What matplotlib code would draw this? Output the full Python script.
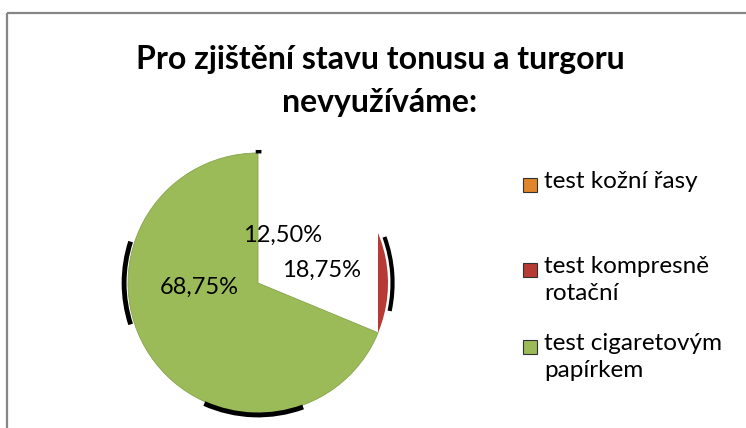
import matplotlib.pyplot as plt
from matplotlib.patches import Rectangle, Arc

# data
kategorie = ["test kožní řasy", "test kompresně\nrotační", "test cigaretovým\npapírkem"]
hodnoty = [12.5, 18.75, 68.75]
popisky = ["12,50%", "18,75%", "68,75%"]
barvy = ["#E0852B", "#B83A35", "#9BBB59"]
nadpis = "Pro zjištění stavu tonusu a turgoru\nnevyužíváme:"

plt.rcParams['font.family'] = ['Lato', 'DejaVu Sans']

W, H = 746, 428
fig = plt.figure(figsize=(W / 100, H / 100), dpi=100)

# pozadi v pixelovych souradnicich
bg = fig.add_axes([0, 0, 1, 1])
bg.set_xlim(0, W)
bg.set_ylim(H, 0)
bg.axis('off')
bg.plot([7, W], [13, 13], color="#868686", lw=1.6, solid_capstyle='butt')
bg.plot([7, 7], [13, H], color="#868686", lw=1.6, solid_capstyle='butt')
bg.text(380, 81, nadpis, ha='center', va='center', fontsize=23, fontweight='bold',
        linespacing=1.62, color="#000000")

# kolac
cx, cy, r = 258, 283, 130
ax = fig.add_axes([(cx - r) / W, (H - cy - r) / H, 2 * r / W, 2 * r / H])

wedges, _ = ax.pie(hodnoty, startangle=90, counterclock=False, radius=1,
                   colors=barvy, wedgeprops=dict(linewidth=0))
ax.set_xlim(-1, 1)
ax.set_ylim(-1, 1)
ax.axis('off')

# jen zelena vysec je videt cela, cervena jen jako okraj vpravo
wedges[0].set_visible(False)
clip = Rectangle((0.925, -1), 0.2, 2, transform=ax.transData)
wedges[1].set_clip_path(clip)
wedges[1].set_clip_on(True)
wedges[2].set_edgecolor("#86A44A")
wedges[2].set_linewidth(0.6)

# cerne stiny kolem
for (t1, t2, rr, lw) in [(162, 198, 1.03, 3.5), (-12, 20, 1.035, 3.0),
                         (246, 290, 1.015, 3.5), (88.5, 91, 1.01, 2.5)]:
    ax.add_patch(Arc((0, 0), 2 * rr, 2 * rr, theta1=t1, theta2=t2, color='black',
                     lw=lw, clip_on=False))

pozice = [(0.19, 0.37), (0.49, 0.10), (-0.45, -0.03)]
for (x, y), t in zip(pozice, popisky):
    ax.text(x, y, t, ha='center', va='center', fontsize=17, color='black')

# legenda
ly = [185, 270, 347]
for y, barva, text in zip(ly, barvy, kategorie):
    bg.add_patch(Rectangle((523, y - 7), 14, 14, facecolor=barva, edgecolor='#333333', lw=0.8))
    bg.text(544, y - 14, text, ha='left', va='top', fontsize=17.5, linespacing=1.38)

fig.savefig("out.png", dpi=100)
